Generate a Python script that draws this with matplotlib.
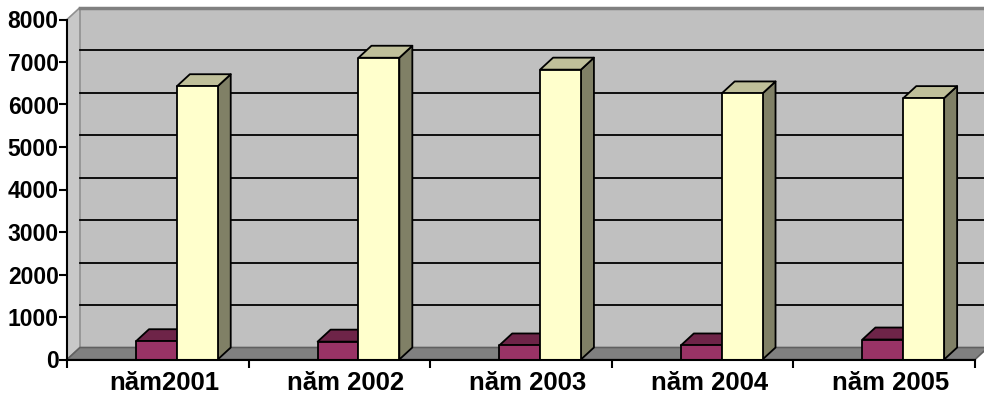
import matplotlib
matplotlib.use("Agg")
import matplotlib.pyplot as plt
from matplotlib.patches import Polygon

categories = ["năm2001", "năm 2002", "năm 2003", "năm 2004", "năm 2005"]
series_a = [430, 420, 330, 330, 470]        # maroon
series_b = [6430, 7100, 6820, 6260, 6150]   # light yellow
y_ticks = [0, 1000, 2000, 3000, 4000, 5000, 6000, 7000, 8000]

W, H = 984, 403
fig = plt.figure(figsize=(W / 100, H / 100), dpi=100)
ax = fig.add_axes([67 / W, (H - 359.5) / H, 1 - 67 / W, 359.5 / H])
XMAX = (W - 67) / 181.6
YTOP = 359.5 / 42.5 * 1000
ax.set_xlim(0, XMAX)
ax.set_ylim(0, YTOP)

DX = 13 / 181.6
DY = 12 / 42.5 * 1000
YMAX = 8000
n = len(categories)

wall = "#C0C0C0"
floor = "#808080"
# back wall
ax.add_patch(Polygon([(DX, DY), (XMAX + 1, DY), (XMAX + 1, YMAX + DY), (DX, YMAX + DY)],
                     closed=True, facecolor=wall, edgecolor="none", zorder=0))
# left wall
ax.add_patch(Polygon([(0, 0), (DX, DY), (DX, YMAX + DY), (0, YMAX)],
                     closed=True, facecolor="#C8C8C8", edgecolor="#909090", lw=1.2, zorder=0.5,
                     clip_on=False))
# floor
ax.add_patch(Polygon([(0, 0), (n, 0), (n + DX, DY), (DX, DY)],
                     closed=True, facecolor=floor, edgecolor="#606060", lw=1.2, zorder=0.6,
                     clip_on=False))
# top edge of back wall
ax.plot([DX, XMAX + 1], [YMAX + DY, YMAX + DY], color="#808080", lw=2.5, zorder=0.7, clip_on=False)
# gridlines
for t in y_ticks[1:-1]:
    ax.plot([DX, XMAX + 1], [t + DY, t + DY], color="black", lw=1.3, zorder=1)

w = 0.225
off = 0.38
def bar3d(x0, v, front, top, side):
    ax.add_patch(Polygon([(x0 + w, 0), (x0 + w + DX, DY), (x0 + w + DX, v + DY), (x0 + w, v)],
                         closed=True, facecolor=side, edgecolor="black", lw=1.3, zorder=2,
                         joinstyle="round"))
    ax.add_patch(Polygon([(x0, v), (x0 + w, v), (x0 + w + DX, v + DY), (x0 + DX, v + DY)],
                         closed=True, facecolor=top, edgecolor="black", lw=1.3, zorder=2,
                         joinstyle="round"))
    ax.add_patch(Polygon([(x0, 0), (x0 + w, 0), (x0 + w, v), (x0, v)],
                         closed=True, facecolor=front, edgecolor="black", lw=1.3, zorder=2,
                         joinstyle="round"))

for i in range(n):
    bar3d(i + off, series_a[i], "#993366", "#6E2448", "#5a1e3c")
    bar3d(i + off + w, series_b[i], "#FFFFCC", "#C0C09A", "#808066")

# axes
for s in ["top", "right"]:
    ax.spines[s].set_visible(False)
ax.spines["left"].set_bounds(0, YMAX)
ax.spines["bottom"].set_bounds(0, n)
ax.spines["left"].set_linewidth(1.5)
ax.spines["bottom"].set_linewidth(1.5)
ax.spines["left"].set_zorder(3)
ax.spines["bottom"].set_zorder(3)

fam = ["Liberation Sans", "DejaVu Sans"]
ax.set_yticks(y_ticks)
ax.set_yticklabels([str(t) for t in y_ticks])
ax.tick_params(axis="y", length=6, width=1.5, pad=0, labelsize=16.5)

ax.set_xticks([i + 0.5 + DX / 2 for i in range(n)])
ax.set_xticklabels(categories)
ax.set_xticks(list(range(n + 1)), minor=True)
ax.tick_params(axis="x", which="major", length=0, pad=8, labelsize=18.5)
ax.tick_params(axis="x", which="minor", length=6, width=1.5)

for lbl in ax.get_yticklabels() + ax.get_xticklabels():
    lbl.set_family(fam)
    lbl.set_weight("bold")

fig.savefig("out.png", dpi=100)
